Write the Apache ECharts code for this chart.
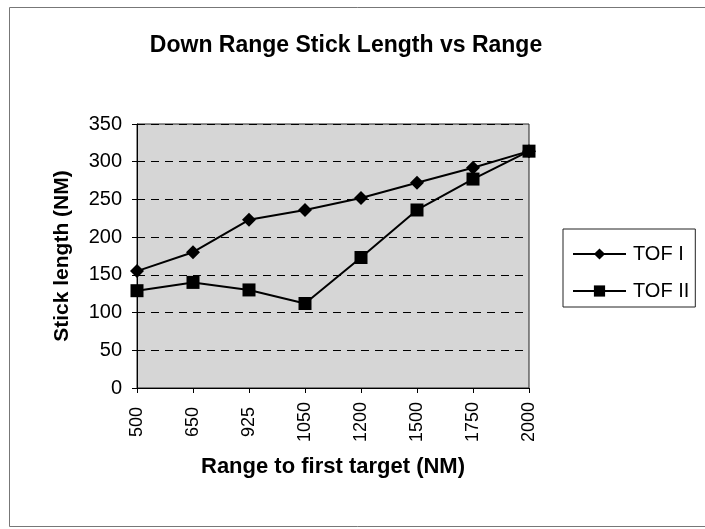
<!DOCTYPE html>
<html><head><meta charset="utf-8">
<script src="https://cdn.jsdelivr.net/npm/echarts@6/dist/echarts.min.js"></script>
<style>html,body{margin:0;padding:0;background:#fff}#c{width:705px;height:529px}</style>
</head><body><div id="c"></div>
<script>
const categories = ['500','650','925','1050','1200','1500','1750','2000'];
const tof1 = [155, 180, 223, 236, 252, 272, 292, 314];
const tof2 = [129, 140, 130, 112, 173, 236, 277, 314];
const yTicks = [0, 350, 50];

const chart = echarts.init(document.getElementById('c'));
const F = 'Liberation Sans, Arial, sans-serif';
chart.setOption({
  animation: false,
  backgroundColor: '#fff',
  title: {text: 'Down Range Stick Length vs Range', left: 341, top: 29, textAlign: 'center',
    textStyle: {fontFamily: F, fontSize: 23, fontWeight: 'bold', color: '#000'}},
  grid: {left: 137, right: 176, top: 124, bottom: 141, show: true, backgroundColor: '#d6d6d6', borderColor: '#222', borderWidth: 1},
  legend: {left: 563, top: 229, orient: 'vertical', itemWidth: 53, itemHeight: 14, itemGap: 17,
    padding: [15, 6, 6, 9], borderColor: '#222', borderWidth: 1, backgroundColor: '#fff',
    textStyle: {fontFamily: F, fontSize: 20, color: '#000', padding: [0, 0, 0, 2]},
    data: ['TOF I', 'TOF II']},
  xAxis: {type: 'category', data: categories, boundaryGap: false,
    name: 'Range to first target (NM)', nameLocation: 'middle', nameGap: 68,
    nameTextStyle: {fontFamily: F, fontSize: 22, fontWeight: 'bold', color: '#000'},
    axisLine: {lineStyle: {color: '#000'}}, axisTick: {show: true, length: 5, lineStyle: {color: '#000'}},
    axisLabel: {rotate: 90, align: 'center', fontFamily: F, fontSize: 18, color: '#000', margin: 34}},
  yAxis: {type: 'value', min: yTicks[0], max: yTicks[1], interval: yTicks[2],
    name: 'Stick length (NM)', nameLocation: 'middle', nameGap: 64,
    nameTextStyle: {fontFamily: F, fontSize: 21, fontWeight: 'bold', color: '#000'},
    axisLine: {show: true, lineStyle: {color: '#000'}}, axisTick: {show: true, length: 5, lineStyle: {color: '#000'}},
    axisLabel: {fontFamily: F, fontSize: 20, color: '#000', margin: 15},
    splitLine: {show: true, lineStyle: {color: '#000', type: [8, 6], width: 1}}},
  graphic: [{type: 'rect', shape: {x: 9.5, y: 7.5, width: 700, height: 519}, silent: true,
    style: {fill: 'none', stroke: '#777', lineWidth: 1}, z: -10}],
  series: [
    {name: 'TOF I', type: 'line', data: tof1, symbol: 'diamond', symbolSize: 14,
      lineStyle: {color: '#000', width: 2}, itemStyle: {color: '#000'}},
    {name: 'TOF II', type: 'line', data: tof2, symbol: 'rect', symbolSize: 13,
      lineStyle: {color: '#000', width: 2}, itemStyle: {color: '#000'}}
  ]
});
</script></body></html>
